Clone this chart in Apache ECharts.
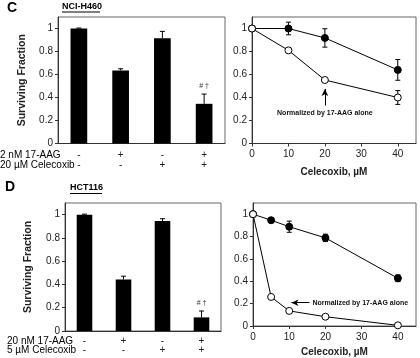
<!DOCTYPE html>
<html>
<head>
<meta charset="utf-8">
<script src="https://cdn.jsdelivr.net/npm/echarts@6/dist/echarts.min.js"></script>
<style>
  html, body { margin: 0; padding: 0; background: #fff; }
  #chart { width: 420px; height: 358px; }
</style>
</head>
<body>
<div id="chart"></div>
<script>
// panel C - NCI-H460
const cAag = ["-", "+", "-", "+"];
const cCel = ["-", "-", "+", "+"];
const cBar = [1.0, 0.635, 0.915, 0.345];
const cBarErr = [0.004, 0.015, 0.06, 0.085];
const cDose = [0, 10, 20, 40];
const cFilled = [1.0, 1.0, 0.918, 0.64];
const cFilledErr = [0, 0.055, 0.08, 0.09];
const cOpen = [1.0, 0.81, 0.552, 0.40];
const cOpenErr = [0, 0, 0, 0.06];

// panel D - HCT116
const dAag = ["-", "+", "-", "+"];
const dCel = ["-", "-", "+", "+"];
const dBar = [1.0, 0.443, 0.945, 0.117];
const dBarErr = [0.004, 0.028, 0.02, 0.055];
const dDose = [0, 5, 10, 20, 40];
const dFilled = [1.0, 0.946, 0.888, 0.788, 0.427];
const dFilledErr = [0, 0.015, 0.05, 0.033, 0.03];
const dOpen = [1.0, 0.26, 0.135, 0.083, 0.006];
const dOpenErr = [0, 0, 0, 0, 0];

const yTicks = [0, 1.1, 0.2]; // min, max, interval
const xDoseTicks = [0, 45, 10];

const font = "Liberation Sans, Arial, sans-serif";
const ink = "#222";

function cats(a, b) {
  return a.map((v, i) => v + "\n" + b[i]);
}

// error bars drawn through the axis scales
function errRender(both, cap) {
  return function (params, api) {
    const x = api.value(0), v = api.value(1), e = api.value(2);
    if (!e) return;
    const top = api.coord([x, v + e]);
    const bot = api.coord([x, both ? v - e : v]);
    const st = { stroke: "#000", lineWidth: 1 };
    const kids = [
      { type: "line", shape: { x1: top[0], y1: top[1], x2: bot[0], y2: bot[1] }, style: st },
      { type: "line", shape: { x1: top[0] - cap, y1: top[1], x2: top[0] + cap, y2: top[1] }, style: st },
    ];
    if (both) {
      kids.push({ type: "line", shape: { x1: bot[0] - cap, y1: bot[1], x2: bot[0] + cap, y2: bot[1] }, style: st });
    }
    return { type: "group", children: kids };
  };
}

function yAxisOpt(idx, title, gap) {
  return {
    gridIndex: idx,
    type: "value",
    min: yTicks[0],
    max: yTicks[1],
    interval: yTicks[2],
    name: title,
    nameLocation: "middle",
    nameGap: gap,
    nameTextStyle: { fontFamily: font, fontWeight: "bold", fontSize: 10.5, color: ink },
    axisLine: { show: true, lineStyle: { color: "#333" } },
    axisTick: { show: true, length: 3, lineStyle: { color: "#333" } },
    axisLabel: { fontFamily: font, fontSize: 10, color: ink, margin: 5, showMaxLabel: false },
    splitLine: { show: false },
  };
}

function catAxisOpt(idx, a, b, lh, margin) {
  return {
    gridIndex: idx,
    type: "category",
    data: cats(a, b),
    axisLine: { lineStyle: { color: "#333" } },
    axisTick: { show: false },
    axisLabel: { fontFamily: font, fontSize: 10, color: ink, lineHeight: lh, margin: margin },
  };
}

function doseAxisOpt(idx, gap) {
  return {
    gridIndex: idx,
    type: "value",
    min: xDoseTicks[0],
    max: xDoseTicks[1],
    interval: xDoseTicks[2],
    name: "Celecoxib, µM",
    nameLocation: "middle",
    nameGap: gap,
    nameTextStyle: { fontFamily: font, fontWeight: "bold", fontSize: 10, color: ink },
    axisLine: { lineStyle: { color: "#333" } },
    axisTick: { show: true, length: 3, lineStyle: { color: "#333" } },
    axisLabel: { fontFamily: font, fontSize: 10, color: ink, margin: 6, showMaxLabel: false },
    splitLine: { show: false },
  };
}

function barSeries(idx, vals, errs, markY) {
  return [
    {
      type: "bar",
      xAxisIndex: idx,
      yAxisIndex: idx,
      data: vals,
      barWidth: "40%",
      itemStyle: { color: "#000" },
      markPoint: {
        symbol: "circle",
        symbolSize: 0,
        silent: true,
        label: { show: true, formatter: "# †", fontFamily: font, fontSize: 7, color: "#333" },
        data: [{ coord: [3, markY] }],
      },
    },
    {
      type: "custom",
      xAxisIndex: idx,
      yAxisIndex: idx,
      z: 3,
      encode: { x: 0, y: 1 },
      renderItem: errRender(false, 2.5),
      data: vals.map((v, i) => [i, v, errs[i]]),
    },
  ];
}

function lineSeries(idx, dose, vals, errs, open, extra) {
  const s = {
    type: "line",
    xAxisIndex: idx,
    yAxisIndex: idx,
    data: dose.map((d, i) => [d, vals[i]]),
    symbol: "circle",
    symbolSize: 7,
    z: 4,
    lineStyle: { color: "#000", width: 1 },
    itemStyle: open
      ? { color: "#fff", borderColor: "#000", borderWidth: 1 }
      : { color: "#000", borderColor: "#000", borderWidth: 1 },
  };
  Object.assign(s, extra || {});
  return [
    s,
    {
      type: "custom",
      xAxisIndex: idx,
      yAxisIndex: idx,
      z: 2,
      encode: { x: 0, y: 1 },
      renderItem: errRender(true, 2.5),
      data: dose.map((d, i) => [d, vals[i], errs[i]]),
    },
  ];
}

const noteLabel = { show: true, formatter: "Normalized by 17-AAG alone", fontFamily: font, fontSize: 7, fontWeight: "bold", color: "#111" };

const cNote = {
  markLine: {
    silent: true,
    symbol: ["none", "arrow"],
    symbolSize: [5, 7],
    label: { show: false },
    lineStyle: { color: "#000", width: 1, type: "solid" },
    data: [[{ coord: [20, 0.33] }, { coord: [20, 0.475] }]],
  },
  markPoint: {
    symbol: "circle",
    symbolSize: 0,
    silent: true,
    label: noteLabel,
    data: [{ coord: [20, 0.265] }],
  },
};

const dNote = {
  markLine: {
    silent: true,
    symbol: ["none", "arrow"],
    symbolSize: [5, 7],
    label: { show: false },
    lineStyle: { color: "#000", width: 1, type: "solid" },
    data: [[{ coord: [15.6, 0.208] }, { coord: [10.6, 0.208] }]],
  },
  markPoint: {
    symbol: "circle",
    symbolSize: 0,
    silent: true,
    label: Object.assign({}, noteLabel, { position: "right", distance: 0 }),
    data: [{ coord: [16.4, 0.208] }],
  },
};

const gridStyle = { show: true, borderColor: "#666", borderWidth: 1, backgroundColor: "transparent" };

function txt(x, y, s, f) {
  return { type: "text", x: x, y: y, style: { text: s, font: f, fill: "#000", align: "left", verticalAlign: "middle" } };
}
function rule(x1, x2, y) {
  return { type: "line", shape: { x1: x1, y1: y, x2: x2, y2: y }, style: { stroke: "#000", lineWidth: 1 } };
}

const chart = echarts.init(document.getElementById("chart"), null, { renderer: "canvas" });
chart.setOption({
  animation: false,
  backgroundColor: "#fff",
  grid: [
    Object.assign({ left: 58, top: 17, width: 167, height: 126.5 }, gridStyle),
    Object.assign({ left: 252, top: 17, width: 164, height: 126.5 }, gridStyle),
    Object.assign({ left: 65, top: 203, width: 156, height: 128 }, gridStyle),
    Object.assign({ left: 253, top: 203, width: 163, height: 127 }, gridStyle),
  ],
  xAxis: [
    catAxisOpt(0, cAag, cCel, 10.5, 6),
    doseAxisOpt(1, 24),
    catAxisOpt(2, dAag, dCel, 9.5, 5),
    doseAxisOpt(3, 21),
  ],
  yAxis: [
    yAxisOpt(0, "Surviving Fraction", 30),
    yAxisOpt(1, "", 0),
    yAxisOpt(2, "Surviving Fraction", 31),
    yAxisOpt(3, "", 0),
  ],
  series: [
    ...barSeries(0, cBar, cBarErr, 0.5),
    ...lineSeries(1, cDose, cFilled, cFilledErr, false),
    ...lineSeries(1, cDose, cOpen, cOpenErr, true, cNote),
    ...barSeries(2, dBar, dBarErr, 0.24),
    ...lineSeries(3, dDose, dFilled, dFilledErr, false),
    ...lineSeries(3, dDose, dOpen, dOpenErr, true, dNote),
  ],
  graphic: [
    txt(7, 8, "C", "bold 14px " + font),
    txt(62, 6.5, "NCI-H460", "bold 9px " + font),
    rule(62, 100, 12),
    txt(0, 155, "2 nM 17-AAG", "10px " + font),
    txt(0, 165.5, "20 µM Celecoxib", "10px " + font),

    txt(5, 187, "D", "bold 14px " + font),
    txt(70, 188, "HCT116", "bold 9px " + font),
    rule(70, 102, 193.5),
    txt(7, 341, "20 nM 17-AAG", "10px " + font),
    txt(7, 350.5, "5 µM Celecoxib", "10px " + font),
  ],
});
</script>
</body>
</html>
